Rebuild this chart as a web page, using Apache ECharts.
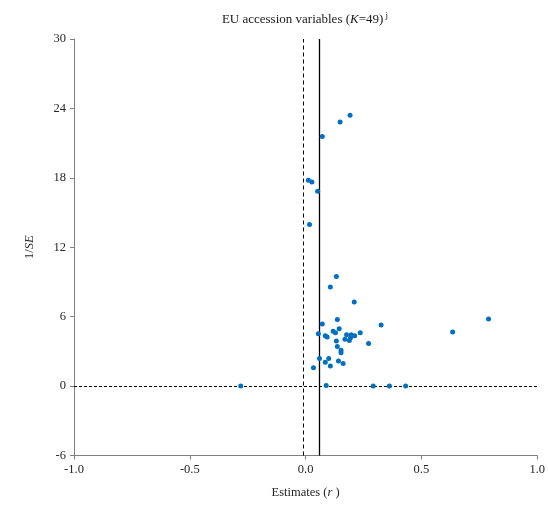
<!DOCTYPE html>
<html><head><meta charset="utf-8">
<script src="https://cdn.jsdelivr.net/npm/echarts@6/dist/echarts.min.js"></script>
<style>html,body{margin:0;padding:0;background:#fff}#c{width:548px;height:508px}</style>
</head><body><div id="c"></div>
<script>
// Estimates (r)
const estimates = [0.192,0.149,0.072,0.012,0.027,0.052,0.017,
 0.133,0.107,0.210,0.072,0.137,0.145,0.119,0.129,0.055,0.085,0.093,0.177,0.197,0.212,0.236,0.194,0.189,0.170,0.133,0.137,
 0.326,0.272,0.153,0.153,0.060,0.100,0.085,0.142,0.162,0.107,0.034,0.089,0.292,0.362,0.432,-0.280,0.790,0.635];
// 1/SE
const precision = [23.40,22.82,21.58,17.80,17.63,16.83,13.97,
 9.48,8.56,7.26,5.36,5.76,4.95,4.73,4.61,4.52,4.35,4.24,4.43,4.43,4.35,4.61,4.17,3.95,4.04,3.89,3.43,
 5.27,3.69,3.09,2.88,2.39,2.39,2.05,2.16,1.96,1.73,1.58,0.06,0,0,0,0,5.79,4.67];
const xTicks = [-1.0,-0.5,0.0,0.5,1.0];
const yTicks = [-6,0,6,12,18,24,30];
const dashedRefX = -0.013;   // dashed vertical reference
const solidRefX = 0.062;     // solid vertical reference (mean)
const horizRefY = 0;

const pts = estimates.map((v,i)=>[v,precision[i]]);
const serif = 'Liberation Serif, Times New Roman, serif';
const axisGrey = '#7f7f7f';
const chart = echarts.init(document.getElementById('c'));
chart.setOption({
  animation:false,
  title:{
    text:'{a|EU accession variables (}{i|K}{a|=49)}{s| j}',
    left:300, top:6, textAlign:'center',
    textStyle:{fontWeight:'normal',rich:{
      a:{fontFamily:serif,fontSize:13,fontWeight:'normal',color:'#1a1a1a'},
      i:{fontFamily:serif,fontSize:13,fontStyle:'italic',fontWeight:'normal',color:'#1a1a1a'},
      s:{fontFamily:serif,fontSize:9,fontWeight:'normal',color:'#1a1a1a',verticalAlign:'top',padding:[0,0,8,0]}
    }}
  },
  grid:{left:74,right:6,top:39,bottom:52.5,containLabel:false},
  xAxis:{
    type:'value',min:xTicks[0],max:xTicks[xTicks.length-1],interval:0.5,
    name:'{a|Estimates (}{i|r}{a| )}',nameLocation:'middle',nameGap:31,
    nameTextStyle:{rich:{a:{fontFamily:serif,fontSize:12.5,color:'#262626'},i:{fontFamily:serif,fontSize:12.5,fontStyle:'italic',color:'#262626'}}},
    axisLine:{onZero:false,lineStyle:{color:axisGrey,width:1}},
    axisTick:{show:true,length:4,lineStyle:{color:axisGrey}},
    axisLabel:{fontFamily:serif,fontSize:12.5,color:'#262626',margin:8,formatter:v=>v.toFixed(1)},
    splitLine:{show:false}
  },
  yAxis:{
    type:'value',min:yTicks[0],max:yTicks[yTicks.length-1],interval:6,
    name:'{a|1/}{i|SE}',nameLocation:'middle',nameGap:38,nameRotate:90,
    nameTextStyle:{rich:{a:{fontFamily:serif,fontSize:12.5,color:'#262626'},i:{fontFamily:serif,fontSize:12.5,fontStyle:'italic',color:'#262626'}}},
    axisLine:{show:true,onZero:false,lineStyle:{color:axisGrey,width:1}},
    axisTick:{show:true,length:4,lineStyle:{color:axisGrey}},
    axisLabel:{fontFamily:serif,fontSize:12.5,color:'#262626',margin:8},
    splitLine:{show:false}
  },
  series:[{
    type:'scatter',
    data:pts,
    symbol:'circle',symbolSize:5,
    itemStyle:{color:'#0070c0',opacity:1},
    z:5,
    markLine:{
      silent:true,symbol:['none','none'],label:{show:false},
      data:[
        {xAxis:dashedRefX,lineStyle:{color:'#000',type:[4,3],width:1}},
        {xAxis:solidRefX,lineStyle:{color:'#000',type:'solid',width:1.3}},
        {yAxis:horizRefY,lineStyle:{color:'#000',type:[3,2],width:1}}
      ]
    }
  }]
});
</script></body></html>
